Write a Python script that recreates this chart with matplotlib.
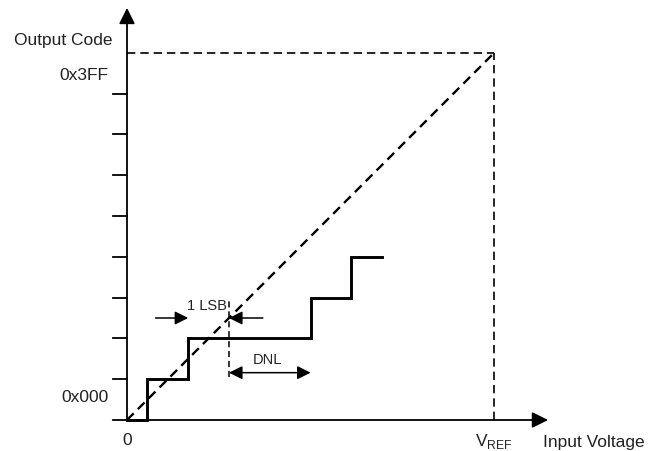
import matplotlib.pyplot as plt

plt.rcParams['font.family'] = ['Liberation Sans', 'DejaVu Sans']

# transfer function (in LSB units)
step_x = [0.0, 0.5, 0.5, 1.5, 1.5, 4.5, 4.5, 5.5, 5.5, 6.25]
step_y = [0, 0, 1, 1, 2, 2, 3, 3, 4, 4]
ideal_x = [0, 9]
ideal_y = [0, 9]
vref = 9
full_scale = 9
tick_pos = [1, 2, 3, 4, 5, 6, 7, 8]
code_labels = ['0x000', '0x3FF']
code_label_pos = [0.55, 8.45]
lsb_y = 2.5
lsb_edges = [1.5, 2.5]
dnl_y = 1.16
dnl_edges = [2.5, 4.5]

fig = plt.figure(figsize=(6.48, 4.51), dpi=100)
ax = fig.add_axes([0, 0, 1, 1])
ax.set_xlim(-127 / 40.8, (648 - 127) / 40.8)
ax.set_ylim(-31 / 40.8, 420 / 40.8)
ax.axis('off')

k = 'black'
txt = '#222222'
# axes with arrows
ax.annotate('', xy=(0, 10.1), xytext=(0, 0), arrowprops=dict(arrowstyle='-|>', color=k, lw=1.3, mutation_scale=24, shrinkA=0, shrinkB=0))
ax.annotate('', xy=(10.32, 0), xytext=(-0.35, 0), arrowprops=dict(arrowstyle='-|>', color=k, lw=1.3, mutation_scale=24, shrinkA=0, shrinkB=0))
for t in tick_pos:
    ax.plot([-0.35, 0], [t, t], color=k, lw=1.3)

# full scale box
ax.plot([0, vref], [full_scale, full_scale], color=k, lw=1.2, dashes=(5, 3))
ax.plot([vref, vref], [0, full_scale], color=k, lw=1.2, dashes=(5, 3))
# ideal line
ax.plot(ideal_x, ideal_y, color=k, lw=1.7, dashes=(4, 2.5))
# actual steps
ax.plot(step_x, step_y, color=k, lw=2.1, solid_joinstyle='miter')

# 1 LSB marker
ax.plot([lsb_edges[1], lsb_edges[1]], [dnl_y - 0.1, lsb_y + 0.42], color=k, lw=1.1, dashes=(4, 2.5))
ax.annotate('', xy=(lsb_edges[0], lsb_y), xytext=(lsb_edges[0] - 0.8, lsb_y),
            arrowprops=dict(arrowstyle='-|>', color=k, lw=1.1, mutation_scale=20, shrinkA=0, shrinkB=0))
ax.annotate('', xy=(lsb_edges[1], lsb_y), xytext=(lsb_edges[1] + 0.83, lsb_y),
            arrowprops=dict(arrowstyle='-|>', color=k, lw=1.1, mutation_scale=20, shrinkA=0, shrinkB=0))
ax.text(1.95, lsb_y + 0.3, '1 LSB', ha='center', va='center', fontsize=10.5, color=txt)

# DNL marker
ax.annotate('', xy=(dnl_edges[1], dnl_y), xytext=(dnl_edges[0], dnl_y),
            arrowprops=dict(arrowstyle='<|-|>', color=k, lw=1.1, mutation_scale=20, shrinkA=0, shrinkB=0))
ax.text(3.45, dnl_y + 0.3, 'DNL', ha='center', va='center', fontsize=10.5, color=txt)

# labels
for lab, p in zip(code_labels, code_label_pos):
    ax.text(-0.45, p, lab, ha='right', va='center', fontsize=12.5, color=txt)
ax.text(-0.35, 9.3, 'Output Code', ha='right', va='center', fontsize=12.5, color=txt)
ax.text(0, -0.5, '0', ha='center', va='center', fontsize=12.5, color=txt)
ax.text(vref, -0.52, r'V$_\mathregular{REF}$', ha='center', va='center', fontsize=12.5, color=txt)
ax.text(10.2, -0.55, 'Input Voltage', ha='left', va='center', fontsize=12.5, color=txt)

fig.savefig('out.png', dpi=100)
